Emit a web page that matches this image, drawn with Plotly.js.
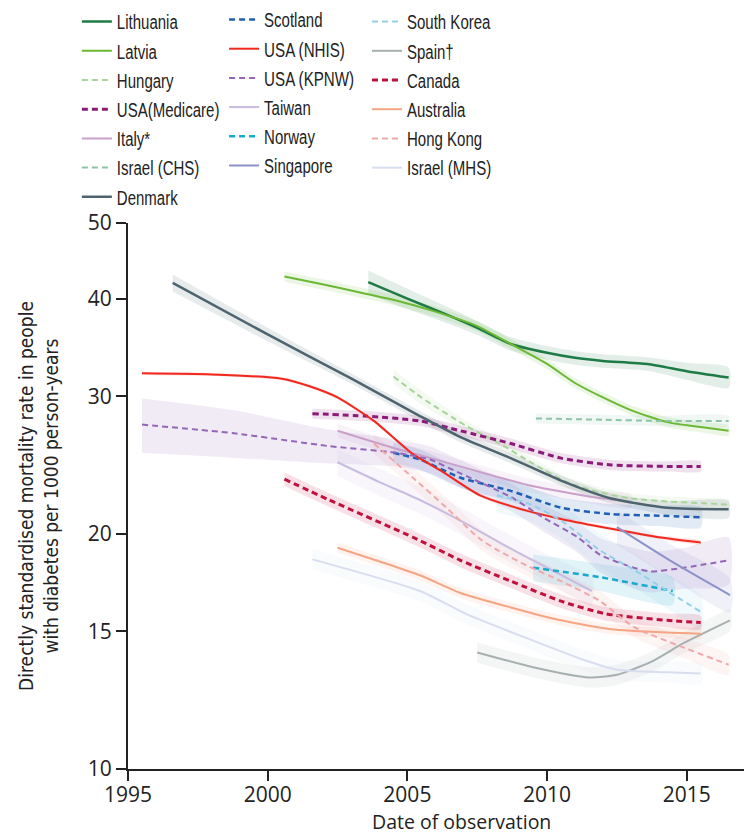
<!DOCTYPE html>
<html><head><meta charset="utf-8">
<script src="https://cdn.plot.ly/plotly-3.0.1.min.js"></script>
<style>html,body{margin:0;padding:0;background:#fff}#chart{width:744px;height:836px}</style>
</head><body><div id="chart"></div>
<script>
// ---- data ----
const seriesNames = ["Lithuania","Latvia","Hungary","USA(Medicare)","Italy*","Israel (CHS)","Denmark",
  "Scotland","USA (NHIS)","USA (KPNW)","Taiwan","Norway","Singapore",
  "South Korea","Spain†","Canada","Australia","Hong Kong","Israel (MHS)"];

const yrLithuania = [2003.6,2005,2006.3,2007.5,2008.7,2010,2011,2012,2013.6,2015,2016.5];
const rtLithuania = [42.0,40.0,38.3,36.7,35.0,34.1,33.6,33.3,33.0,32.3,31.7];
const ciLithuania = [3.5,3,2.5,2,2,2,2,2,2,2.5,3];

const yrLatvia = [2000.6,2002,2003.5,2004.7,2006,2007.5,2008.7,2010,2011,2012,2013,2014.3,2015.5,2016.5];
const rtLatvia = [42.7,41.7,40.6,39.7,38.5,36.9,35.0,33.0,31.2,29.9,28.8,27.8,27.4,27.1];
const ciLatvia = [1.5,1.5,1.5,1.5,1.5,1.5,1.5,1.5,1.5,1.5,1.5,1.5,1.5,1.5];

const yrHungary = [2004.5,2005.5,2007.1,2008.3,2009.5,2010.7,2011.9,2013,2014.3,2015.5,2016.5];
const rtHungary = [31.8,29.9,27.5,26.1,24.6,23.3,22.6,22.2,22.0,21.9,21.8];
const ciHungary = [2,2,1.5,1.5,1.5,1.5,1.5,1.5,1.5,1.5,1.5];

const yrMedicare = [2001.6,2003.5,2005.45,2006.9,2008.7,2010.5,2012.3,2014.3,2015.5];
const rtMedicare = [28.5,28.3,27.9,27.1,26.1,25.0,24.5,24.4,24.4];
const ciMedicare = [1.5,1.5,1.5,1.5,1.5,1.5,1.5,1.5,1.5];

const yrItaly = [2002.5,2004.6,2005.5,2007.6,2009.3,2011.6,2013.0];
const rtItaly = [27.1,25.7,25.2,24.0,23.1,22.3,22.0];
const ciItaly = [2,2,2,2,2,2,2];

const yrIsraelCHS = [2009.6,2012,2014,2016.5];
const rtIsraelCHS = [28.1,28.0,27.9,27.9];
const ciIsraelCHS = [1.5,1.5,1.5,1.5];

const yrDenmark = [1996.6,2000,2003,2005.45,2006.9,2008.7,2010.5,2012.3,2014.3,2016.5];
const rtDenmark = [41.9,36.0,31.6,28.3,26.6,25.0,23.4,22.2,21.6,21.5];
const ciDenmark = [2.5,2,1.5,1.5,1.5,1.5,1.5,1.5,2,2.5];

const yrScotland = [2004.5,2005.45,2006.9,2008.7,2010.5,2012.3,2014,2015.5];
const rtScotland = [25.4,24.9,23.6,22.7,21.6,21.2,21.1,21.0];
const ciScotland = [3,3,3,3,3,3,3,3];

const yrNHIS = [1995.5,1998,2000.5,2001.5,2002.5,2003.8,2005.2,2006.2,2007.6,2009.3,2010.5,2012.3,2014,2015.5];
const rtNHIS = [32.1,32.0,31.6,30.9,29.9,27.9,25.3,24.1,22.4,21.4,20.9,20.3,19.8,19.5];
const ciNHIS = [0.5,0.5,0.5,0.5,0.5,0.5,0.5,0.5,0.5,0.5,0.5,0.5,0.5,0.5];

const yrKPNW = [1995.5,1998.8,2002.2,2004.6,2005.8,2006.9,2008.7,2009.85,2011.1,2011.9,2013.1,2013.7,2014.9,2016.5];
const rtKPNW = [27.6,26.9,25.9,25.4,24.9,23.9,22.3,21.0,19.8,18.8,18.1,17.9,18.1,18.5];
const ciKPNW = [8,7,5,4,4,4,4,4,4.5,5,6,6,6,7];

const yrTaiwan = [2002.5,2004,2005.45,2007,2008.4,2010,2011.6];
const rtTaiwan = [24.7,23.3,22.1,20.7,19.4,18.1,16.9];
const ciTaiwan = [4,4,4,4,4,4,4];

const yrNorway = [2009.5,2011.9,2014.5];
const rtNorway = [18.1,17.6,16.9];
const ciNorway = [4,4,4];

const yrSingapore = [2012.5,2014.5,2016.55];
const rtSingapore = [20.4,18.4,16.7];
const ciSingapore = [5,5,5];

const yrSouthKorea = [2008.2,2009.3,2010.5,2011.9,2013.1,2014.3,2015.5];
const rtSouthKorea = [22.4,21.9,20.8,19.05,18.0,16.9,15.9];
const ciSouthKorea = [5,5,5,5,5,5,5];

const yrSpain = [2007.5,2009.5,2011.5,2012.5,2013.7,2014.9,2016.55];
const rtSpain = [14.1,13.5,13.1,13.2,13.7,14.5,15.5];
const ciSpain = [3,3,3,3,3,3,3];

const yrCanada = [2000.6,2002.2,2005.2,2006.9,2008.7,2010.5,2012.1,2014.3,2015.5];
const rtCanada = [23.5,22.1,19.8,18.5,17.4,16.4,15.8,15.5,15.4];
const ciCanada = [2,2,2,2,2,2,2,2,2];

const yrAustralia = [2002.5,2005.45,2006.9,2008.7,2010.5,2012.3,2014.3,2015.5];
const rtAustralia = [19.2,17.7,16.8,16.1,15.5,15.1,14.95,14.9];
const ciAustralia = [1.5,1.5,1.5,1.5,1.5,1.5,1.5,1.5];

const yrHongKong = [2003.8,2005.2,2006.4,2007.6,2008.3,2009.3,2010.5,2011.9,2013.1,2014.9,2016.5];
const rtHongKong = [26.1,23.6,21.6,19.7,19.0,18.2,17.4,16.4,15.2,14.3,13.6];
const ciHongKong = [3,3,3,3,3,3,3,3,3,3,3];

const yrIsraelMHS = [2001.6,2005.45,2007.1,2009.5,2011.3,2012.5,2014.3,2015.5];
const rtIsraelMHS = [18.55,16.9,15.8,14.6,13.8,13.4,13.3,13.25];
const ciIsraelMHS = [3,3,3,3,3,3,3,3];

const xTickVals = [1995,2000,2005,2010,2015];
const yTickVals = [10,15,20,30,40,50];

// ---- styles ----
const seriesX = [yrLithuania,yrLatvia,yrHungary,yrMedicare,yrItaly,yrIsraelCHS,yrDenmark,
  yrScotland,yrNHIS,yrKPNW,yrTaiwan,yrNorway,yrSingapore,
  yrSouthKorea,yrSpain,yrCanada,yrAustralia,yrHongKong,yrIsraelMHS];
const seriesY = [rtLithuania,rtLatvia,rtHungary,rtMedicare,rtItaly,rtIsraelCHS,rtDenmark,
  rtScotland,rtNHIS,rtKPNW,rtTaiwan,rtNorway,rtSingapore,
  rtSouthKorea,rtSpain,rtCanada,rtAustralia,rtHongKong,rtIsraelMHS];
const seriesCI = [ciLithuania,ciLatvia,ciHungary,ciMedicare,ciItaly,ciIsraelCHS,ciDenmark,
  ciScotland,ciNHIS,ciKPNW,ciTaiwan,ciNorway,ciSingapore,
  ciSouthKorea,ciSpain,ciCanada,ciAustralia,ciHongKong,ciIsraelMHS];
const colors = ["#1e7b45","#6bb833","#a9d49a","#8b1a78","#c9a0c9","#8cc4a8","#4d6470",
  "#1f5fb4","#f0281e","#9466b8","#c8bce0","#19a9cc","#8c92c8",
  "#94cfe8","#a7b0b0","#c0103c","#f5a582","#f0a8a8","#d8ddf0"];
const dashed = [false,false,true,true,false,true,false,
  true,false,true,false,true,false,
  true,false,true,false,true,false];
const widths = [2.5,2,2,3,2,2,2.5, 2.5,2,2,2,2.5,2, 2,2,3,2,2,2];
const legendOf = i => i < 7 ? "legend" : (i < 13 ? "legend2" : "legend3");

function rgba(hex, a){
  const r=parseInt(hex.slice(1,3),16), g=parseInt(hex.slice(3,5),16), b=parseInt(hex.slice(5,7),16);
  return `rgba(${r},${g},${b},${a})`;
}

const bands = [], lines = [];
seriesNames.forEach((name,i)=>{
  const xs = seriesX[i], ys = seriesY[i], ci = seriesCI[i];
  const up = ys.map((v,k)=>v*(1+ci[k]/100));
  const lo = ys.map((v,k)=>v*(1-ci[k]/100));
  bands.push({
    x: xs.concat(xs.slice().reverse()),
    y: up.concat(lo.slice().reverse()),
    type:"scatter", mode:"lines", fill:"toself",
    fillcolor: rgba(colors[i], 0.13), line:{width:0, shape:"spline", smoothing:0.6},
    hoverinfo:"skip", showlegend:false, legendgroup:"g"+i, legend: legendOf(i)
  });
  lines.push({
    x: xs, y: ys, name: name, type:"scatter", mode:"lines",
    line:{color: colors[i], width: widths[i], dash: dashed[i] ? "6px,4px" : "solid", shape:"spline", smoothing:0.6},
    legendgroup:"g"+i, legend: legendOf(i)
  });
});

const LEG_FAMILY = "'Liberation Sans', Arial, sans-serif";
const LEG_SIZE = 20;
const legFont = {family:LEG_FAMILY, size:LEG_SIZE, color:"#222"};
const legBase = {xanchor:"left", yanchor:"top", bgcolor:"rgba(0,0,0,0)", font:legFont,
  itemwidth:30, tracegroupgap:0.2, itemclick:false, itemdoubleclick:false};

const layout = {
  width:744, height:836,
  margin:{l:128, r:0, t:222, b:67},
  paper_bgcolor:"#fff", plot_bgcolor:"#fff",
  font:{family:"'Open Sans', 'Noto Sans', sans-serif", color:"#222"},
  showlegend:true,
  legend: Object.assign({}, legBase, {x:-0.083, y:1.402}),
  legend2: Object.assign({}, legBase, {x:0.156, y:1.4085}),
  legend3: Object.assign({}, legBase, {x:0.388, y:1.402}),
  xaxis:{
    range:[1995,2017.05], tickvals:xTickVals, ticktext:xTickVals.map(String),
    showline:true, linecolor:"#222", linewidth:2, ticks:"outside", ticklen:10, tickwidth:2, tickcolor:"#222",
    showgrid:false, zeroline:false, tickfont:{size:21, color:"#222"}, ticklabelstandoff:-4
  },
  yaxis:{
    type:"log", range:[1, Math.log10(50)], tickvals:yTickVals, ticktext:yTickVals.map(String),
    showline:true, linecolor:"#222", linewidth:2, ticks:"outside", ticklen:10, tickwidth:2, tickcolor:"#222",
    showgrid:false, zeroline:false, tickfont:{size:21, color:"#222"},
    title:{text:"Directly standardised mortality rate in people<br>with diabetes per 1000 person-years",
      font:{family:"'DejaVu Sans Condensed', 'Liberation Sans', sans-serif", size:19, color:"#222"}, standoff:24}
  },
  annotations:[{
    text:"Date of observation", xref:"paper", yref:"paper", x:0.542, y:-0.097,
    xanchor:"center", yanchor:"middle", showarrow:false,
    font:{size:19.5, color:"#222", family:"'Open Sans', 'Noto Sans', sans-serif"}
  }]
};

// condense legend labels to match the narrow typeface of the original
const measureCtx = document.createElement("canvas").getContext("2d");
measureCtx.font = LEG_SIZE + "px " + LEG_FAMILY;
const LEG_TEXT_SEL = "text.legendtext, text.legend2text, text.legend3text";
function condenseLegend(){
  document.querySelectorAll(LEG_TEXT_SEL).forEach(t=>{
    const txt = t.textContent;
    if (!txt) return;
    const w = measureCtx.measureText(txt).width * 0.75;
    if (t.getAttribute("textLength") === w.toFixed(1)) return;
    t.setAttribute("textLength", w.toFixed(1));
    t.setAttribute("lengthAdjust", "spacingAndGlyphs");
  });
}

const gd = document.getElementById("chart");
const obs = new MutationObserver(condenseLegend);
obs.observe(gd, {childList:true, subtree:true, characterData:true});

Plotly.newPlot(gd, bands.concat(lines), layout, {staticPlot:true, displayModeBar:false}).then(()=>{
  condenseLegend();
  gd.on("plotly_afterplot", condenseLegend);
  requestAnimationFrame(condenseLegend);
  setTimeout(condenseLegend, 30);
});
condenseLegend();
</script>
</body></html>
